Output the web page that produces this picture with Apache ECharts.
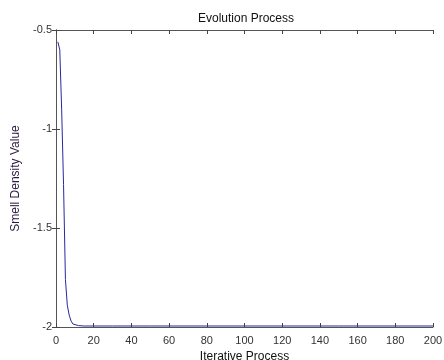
<!DOCTYPE html>
<html><head><meta charset="utf-8">
<script src="https://cdn.jsdelivr.net/npm/echarts@6/dist/echarts.min.js"></script>
<style>html,body{margin:0;padding:0;background:#fff}#c{width:444px;height:360px}</style>
</head><body><div id="c"></div>
<script>
const iterations = [1,2,3,4,5,6,7,8,9,10,12,15,20,30,50,80,100,150,200];
const smellValues = [-0.56,-0.60,-0.90,-1.28,-1.76,-1.89,-1.94,-1.97,-1.985,-1.99,-1.993,-1.995,-1.995,-1.995,-1.995,-1.995,-1.995,-1.995,-1.995];
const xTicks = {min:0,max:200,interval:20};
const yTicks = {min:-2,max:-0.5,interval:0.5};
const font = '"Liberation Sans", Arial, sans-serif';
const chart = echarts.init(document.getElementById('c'), null, {renderer:'canvas'});
const axisCommon = {
  axisLine:{show:true,lineStyle:{color:'#555',width:1}},
  axisTick:{show:true,inside:true,length:4,lineStyle:{color:'#444'}},
  splitLine:{show:false}
};
chart.setOption({
  animation:false,
  backgroundColor:'#fff',
  title:{text:'Evolution Process',left:241,top:8,textAlign:'center',
    textStyle:{fontSize:12,fontWeight:'normal',color:'#111',fontFamily:font}},
  grid:{left:56,right:11,top:30,bottom:33,containLabel:false,outerBoundsMode:'none'},
  xAxis:[
    Object.assign({type:'value',position:'bottom',min:xTicks.min,max:xTicks.max,interval:xTicks.interval,
      name:'Iterative Process',nameLocation:'middle',nameGap:19,
      nameTextStyle:{color:'#111',fontSize:12,fontFamily:font}},axisCommon,
      {axisLabel:{color:'#333',fontSize:11,fontFamily:font,margin:8}}),
    Object.assign({type:'value',position:'top',min:xTicks.min,max:xTicks.max,interval:xTicks.interval},axisCommon,{axisLabel:{show:false}})
  ],
  yAxis:[
    Object.assign({type:'value',position:'left',min:yTicks.min,max:yTicks.max,interval:yTicks.interval,
      name:'Smell Density Value',nameLocation:'middle',nameGap:30,nameRotate:90,
      nameTextStyle:{color:'#2a1a40',fontSize:12,fontFamily:font}},axisCommon,
      {axisLabel:{color:'#333',fontSize:11,fontFamily:font,margin:4}}),
    Object.assign({type:'value',position:'right',min:yTicks.min,max:yTicks.max,interval:yTicks.interval},axisCommon,{axisLabel:{show:false}})
  ],
  series:[{
    type:'line',
    data:iterations.map((x,i)=>[x,smellValues[i]]),
    showSymbol:false,
    lineStyle:{color:'#2828a0',width:1},
    itemStyle:{color:'#2828a0'}
  }]
});
</script></body></html>
